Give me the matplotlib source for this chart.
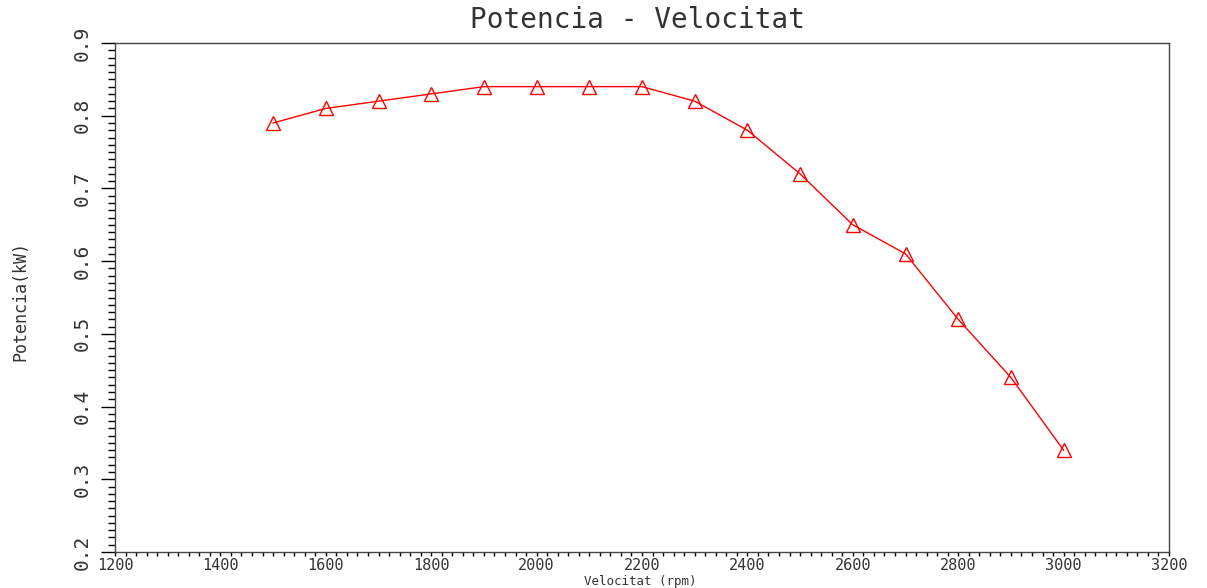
import numpy as np
import matplotlib.pyplot as plt
from matplotlib.ticker import MultipleLocator

# speed (rpm) vs power (kW)
velocitat = [1500, 1600, 1700, 1800, 1900, 2000, 2100, 2200,
             2300, 2400, 2500, 2600, 2700, 2800, 2900, 3000]
potencia = [0.79, 0.81, 0.82, 0.83, 0.84, 0.84, 0.84, 0.84,
            0.82, 0.78, 0.72, 0.65, 0.61, 0.52, 0.44, 0.34]

W, H = 1207, 588
fig = plt.figure(figsize=(W / 100, H / 100), dpi=100)
ax = fig.add_axes([115 / W, 1 - 552 / H, (1169 - 115) / W, (552 - 43) / H])

ax.plot(velocitat, potencia, color="red", lw=1, marker="^", ms=10,
        mfc="none", mec="red", mew=1)

ax.set_xlim(1200, 3200)
ax.set_ylim(0.2, 0.9)
ax.xaxis.set_major_locator(MultipleLocator(200))
ax.xaxis.set_minor_locator(MultipleLocator(20))
ax.yaxis.set_major_locator(MultipleLocator(0.1))
ax.yaxis.set_minor_locator(MultipleLocator(0.01))
ax.yaxis.set_major_formatter(lambda v, p: f"{v:.1f}")

font = "DejaVu Sans Mono"
ax.tick_params(axis="x", which="both", direction="out", length=3, width=1,
               labelsize=11, pad=1)
ax.tick_params(axis="y", which="major", direction="out", length=10, width=1,
               labelsize=14, pad=7)
ax.tick_params(axis="y", which="minor", direction="out", length=5, width=1)
for lab in ax.get_xticklabels():
    lab.set_fontfamily(font)
    lab.set_color("#333333")
for lab in ax.get_yticklabels():
    lab.set_fontfamily(font)
    lab.set_color("#333333")
    lab.set_rotation(90)
    lab.set_va("center")
for s in ax.spines.values():
    s.set_linewidth(1)
    s.set_color("#444444")

fig.text(638 / W, 1 - 20 / H, "Potencia - Velocitat", ha="center", va="center",
         fontsize=20, family=font, color="#333333")
fig.text(20 / W, 1 - 301 / H, "Potencia(kW)", rotation=90, ha="center",
         va="center", fontsize=12, family=font, color="#333333")
fig.text(640 / W, 0.0, "Velocitat (rpm)", ha="center", va="bottom",
         fontsize=9, family=font, color="#333333")

fig.savefig("out.png", dpi=100)
